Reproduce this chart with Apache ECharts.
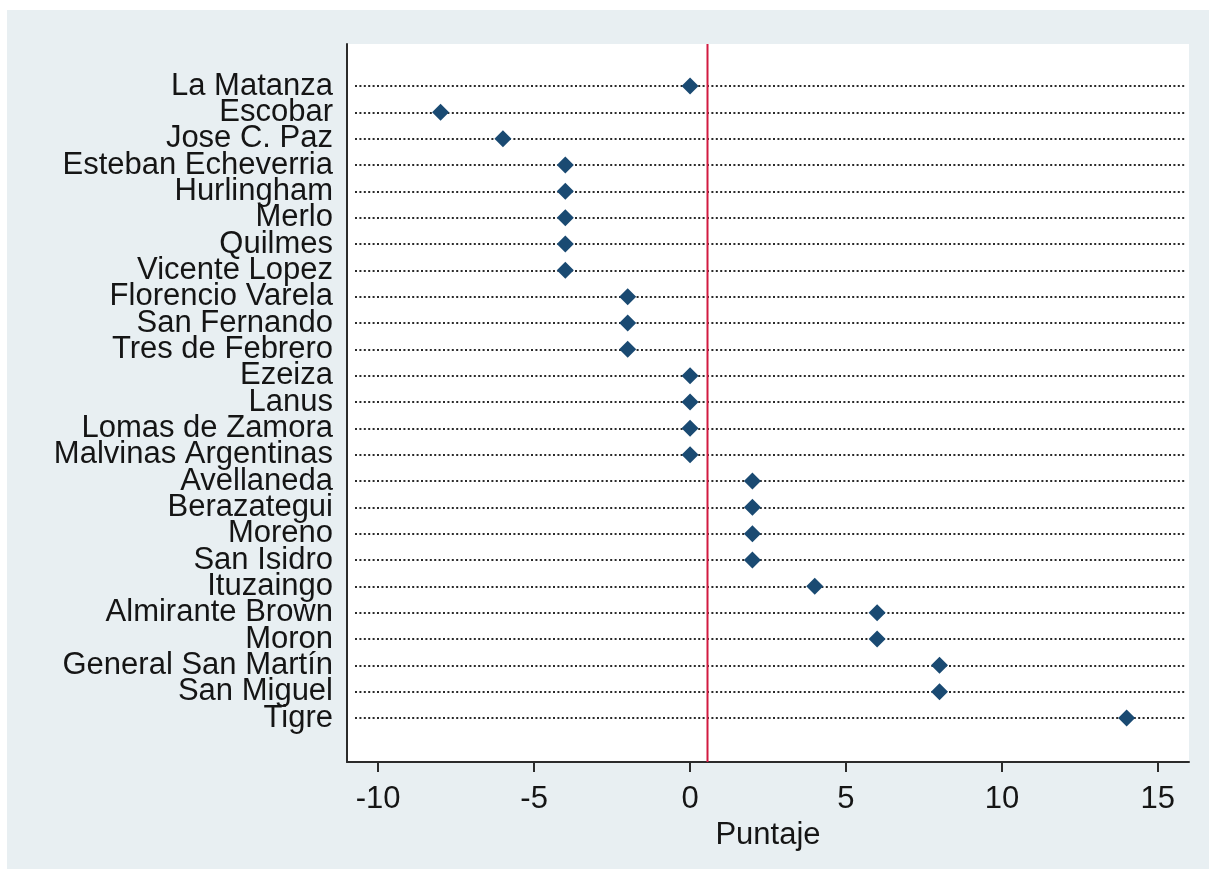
<!DOCTYPE html>
<html>
<head>
<meta charset="utf-8">
<script src="https://cdn.jsdelivr.net/npm/echarts@6/dist/echarts.min.js"></script>
<style>
html,body{margin:0;padding:0;background:#fff;}
#c{width:1209px;height:870px;}
</style>
</head>
<body>
<div id="c"></div>
<script>
const categories = ["La Matanza","Escobar","Jose C. Paz","Esteban Echeverria","Hurlingham","Merlo","Quilmes","Vicente Lopez","Florencio Varela","San Fernando","Tres de Febrero","Ezeiza","Lanus","Lomas de Zamora","Malvinas Argentinas","Avellaneda","Berazategui","Moreno","San Isidro","Ituzaingo","Almirante Brown","Moron","General San Martín","San Miguel","Tigre"];
const values = [0,-8,-6,-4,-4,-4,-4,-4,-2,-2,-2,0,0,0,0,2,2,2,2,4,6,6,8,8,14];
const xTicks = [-10,-5,0,5,10,15];
const xTitle = "Puntaje";

const meanValue = values.reduce((a,b)=>a+b,0)/values.length;
const FONT = "'Liberation Sans', Arial, sans-serif";
const TXT = '#151515';

const chart = echarts.init(document.getElementById('c'), null, {renderer:'canvas'});
chart.setOption({
  backgroundColor:'#ffffff',
  animation:false,
  graphic:[{type:'rect', z:-10, shape:{x:7,y:10,width:1202,height:859}, style:{fill:'#e8eff2'}, silent:true}],
  grid:[
    {left:347, right:20, top:44, bottom:108, show:true, backgroundColor:'#ffffff', borderWidth:0, containLabel:false},
    {left:355, right:24, top:86, bottom:152, show:false, containLabel:false}
  ],
  xAxis:[
    {gridIndex:0, type:'value', min:-11, max:16,
     axisLine:{show:true, lineStyle:{color:'#2b2b2b', width:2}},
     axisTick:{show:true, length:10, lineStyle:{color:'#2b2b2b', width:2}, customValues:xTicks},
     axisLabel:{show:true, margin:22, fontSize:31, fontFamily:FONT, color:TXT, customValues:xTicks},
     splitLine:{show:false},
     name:xTitle, nameLocation:'middle', nameGap:47,
     nameTextStyle:{fontSize:31, fontFamily:FONT, color:TXT, verticalAlign:'top'}
    },
    {gridIndex:1, type:'value', min:-11+8/31.185, max:16-4/31.185, show:false}
  ],
  yAxis:[
    {gridIndex:0, type:'value', min:0, max:1,
     axisLine:{show:true, onZero:false, lineStyle:{color:'#2b2b2b', width:2}},
     axisTick:{show:false}, axisLabel:{show:false}, splitLine:{show:false}},
    {gridIndex:1, type:'category', data:categories, inverse:true, boundaryGap:false,
     axisLine:{show:false}, axisTick:{show:false},
     axisLabel:{show:true, interval:0, margin:22, fontSize:31, fontFamily:FONT, color:TXT},
     splitLine:{show:true, interval:0, lineStyle:{color:'#2a2a2a', width:2, type:[2,2.4]}}
    }
  ],
  series:[
    {type:'line', xAxisIndex:0, yAxisIndex:0, data:[[meanValue,0],[meanValue,1]],
     symbol:'none', lineStyle:{color:'#d21a40', width:2}, z:3, silent:true},
    {type:'scatter', xAxisIndex:1, yAxisIndex:1,
     data:values.map((v,i)=>[v, categories[i]]),
     symbol:'diamond', symbolSize:17,
     itemStyle:{color:'#1a4a72', opacity:1}, z:4}
  ]
});
</script>
</body>
</html>
